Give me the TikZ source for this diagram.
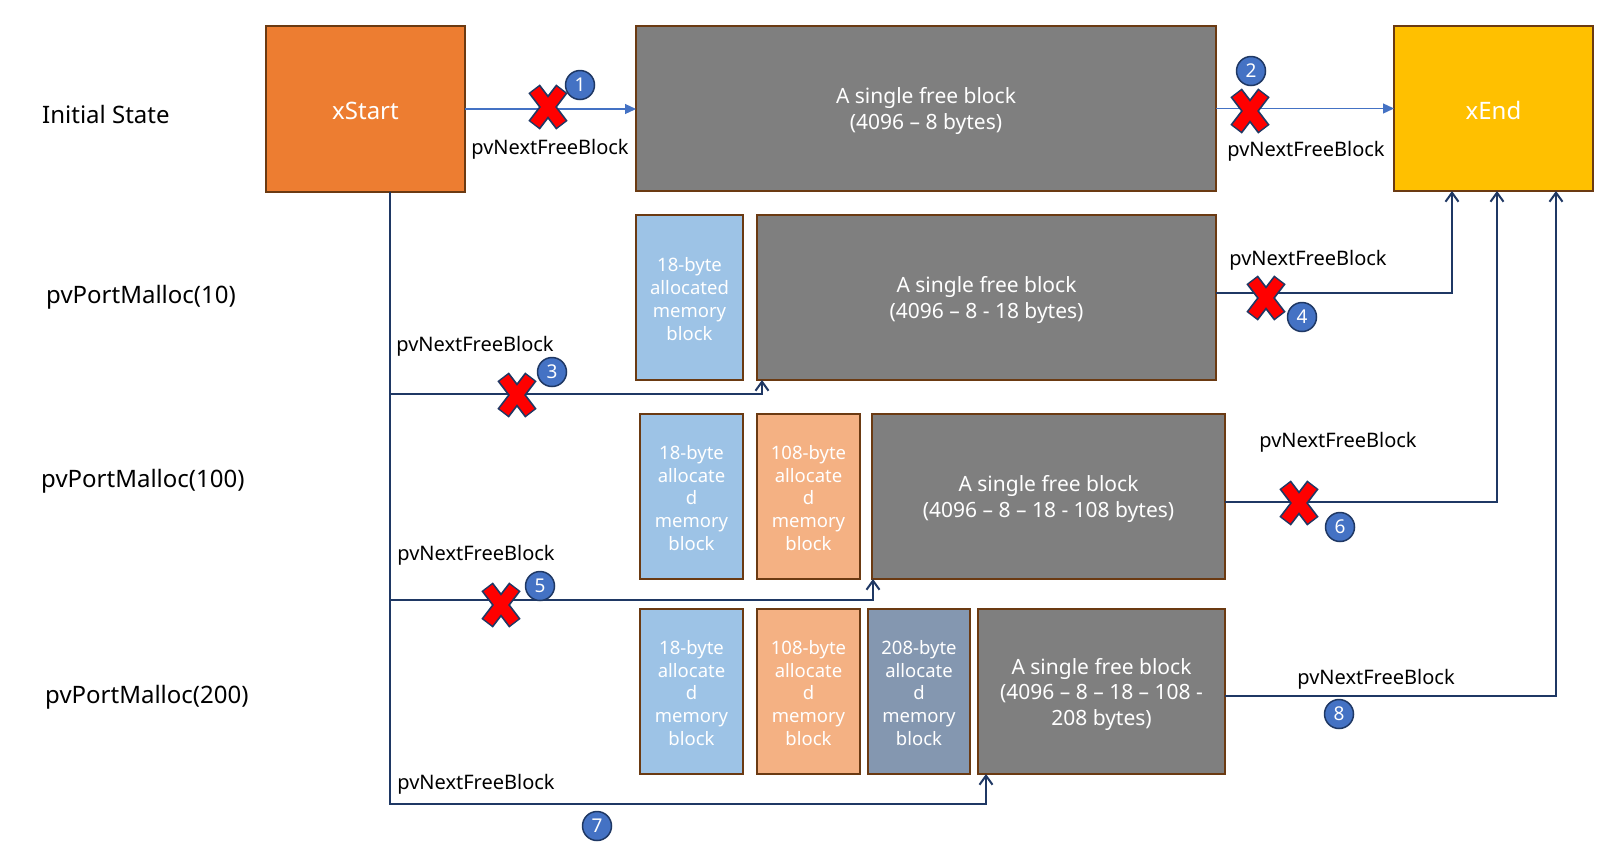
\documentclass[tikz,border=0pt]{standalone}
\usepackage{fontspec}
\setmainfont{Noto Sans}
\usetikzlibrary{arrows.meta,calc}
\definecolor{brownb}{HTML}{6B3A12}
\definecolor{navy}{HTML}{1F3864}
\definecolor{accblue}{HTML}{4472C4}
\definecolor{xorange}{HTML}{ED7D31}
\definecolor{xgold}{HTML}{FFC000}
\definecolor{fgray}{HTML}{7F7F7F}
\definecolor{lblue}{HTML}{9DC3E6}
\definecolor{lorange}{HTML}{F4B183}
\definecolor{slate}{HTML}{8497B0}
\definecolor{xred}{HTML}{FF0000}
\tikzset{
 blk/.style={draw=brownb, line width=2pt, inner sep=0pt, outer sep=0pt},
 intxt/.style={text=white, align=center, inner sep=0pt},
 freetxt/.style={intxt, font=\fontsize{21}{25.5}\selectfont},
 smalltxt/.style={intxt, font=\fontsize{18.5}{22.8}\selectfont},
 titletxt/.style={intxt, font=\fontsize{24}{28}\selectfont},
 lbl/.style={font=\fontsize{20}{24}\selectfont, inner sep=0pt},
 rowlbl/.style={font=\fontsize{24}{28}\selectfont, inner sep=0pt, anchor=west},
 badge/.style={circle, fill=accblue, draw=navy, line width=1.5pt, minimum size=29pt, inner sep=0pt, text=white, font=\fontsize{19}{20}\selectfont},
 navline/.style={draw=navy, line width=2.2pt},
 navarrow/.style={navline, -{Straight Barb[length=9pt,width=13pt,line width=2pt]}},
 bluearrow/.style={draw=accblue, line width=1.2pt, -{Triangle[length=11pt,width=10pt]}},
 xmark/.pic={
   \draw[navy, line width=14.5pt] (-13.9,-18.2) -- (13.9,18.2);
   \draw[navy, line width=14.5pt] (13.9,-18.2) -- (-13.9,18.2);
   \draw[xred, line width=11pt] (-13,-17) -- (13,17);
   \draw[xred, line width=11pt] (13,-17) -- (-13,17);
 },
}
\begin{document}
\begin{tikzpicture}[x=1pt,y=-1pt]
\fill[white] (0,0) rectangle (1597,855);
\useasboundingbox (0,0) rectangle (1597,855);

% row labels
\node[rowlbl] (r0) at (42,114) {Initial State};
\node[rowlbl] (r1) at (46,297) {pvPortMalloc(10)};
\node[rowlbl] (r2) at (41,481) {pvPortMalloc(100)};
\node[rowlbl] (r3) at (45,697) {pvPortMalloc(200)};

% initial state
\node[blk, fill=xorange, minimum width=199pt, minimum height=166pt] (xstart) at (365.5,109) {};
\node[blk, fill=fgray, minimum width=580pt, minimum height=165pt] (f0) at (926,108.5) {};
\node[blk, fill=xgold, minimum width=199pt, minimum height=165pt] (xend) at (1493.5,108.5) {};
\node[titletxt] (txs) at ($(xstart.center)+(0,2)$) {xStart};
\node[freetxt] (tf0) at ($(f0.center)+(0,2.5)$) {A single free block\\(4096 -- 8 bytes)};
\node[titletxt] (txe) at ($(xend.center)+(0,2)$) {xEnd};

% row 2
\node[blk, fill=lblue, minimum width=107pt, minimum height=165pt] (a1) at (689.5,297.5) {};
\node[blk, fill=fgray, minimum width=459pt, minimum height=165pt] (f1) at (986.5,297.5) {};
\node[smalltxt] (ta1) at ($(a1.center)+(0,1.5)$) {18-byte\\allocated\\memory\\block};
\node[freetxt] (tf1) at ($(f1.center)+(0,2.5)$) {A single free block\\(4096 -- 8 - 18 bytes)};

% row 3
\node[blk, fill=lblue, minimum width=103pt, minimum height=165pt] (a2) at (691.5,496.5) {};
\node[blk, fill=lorange, minimum width=103pt, minimum height=165pt] (o2) at (808.5,496.5) {};
\node[blk, fill=fgray, minimum width=353pt, minimum height=165pt] (f2) at (1048.5,496.5) {};
\node[smalltxt] (ta2) at ($(a2.center)+(0,1.5)$) {18-byte\\allocate\\d\\memory\\block};
\node[smalltxt] (to2) at ($(o2.center)+(0,1.5)$) {108-byte\\allocate\\d\\memory\\block};
\node[freetxt] (tf2) at ($(f2.center)+(0,2.5)$) {A single free block\\(4096 -- 8 -- 18 - 108 bytes)};

% row 4
\node[blk, fill=lblue, minimum width=103pt, minimum height=165pt] (a3) at (691.5,691.5) {};
\node[blk, fill=lorange, minimum width=103pt, minimum height=165pt] (o3) at (808.5,691.5) {};
\node[blk, fill=slate, minimum width=102pt, minimum height=165pt] (s3) at (919,691.5) {};
\node[blk, fill=fgray, minimum width=247pt, minimum height=165pt] (f3) at (1101.5,691.5) {};
\node[smalltxt] (ta3) at ($(a3.center)+(0,1.5)$) {18-byte\\allocate\\d\\memory\\block};
\node[smalltxt] (to3) at ($(o3.center)+(0,1.5)$) {108-byte\\allocate\\d\\memory\\block};
\node[smalltxt] (ts3) at ($(s3.center)+(0,1.5)$) {208-byte\\allocate\\d\\memory\\block};
\node[freetxt] (tf3) at ($(f3.center)+(0,2.5)$) {A single free block\\(4096 -- 8 -- 18 -- 108 -\\208 bytes)};

% top arrows
\draw[bluearrow] (xstart.east) -- (xstart.east -| f0.west);
\draw[bluearrow] (f0.east) -- (f0.east -| xend.west);

% trunk and left connectors
\coordinate (trunk) at ([xshift=24.5pt]xstart.south);
\coordinate (k3) at ($(f1.south west)+(5,14)$);
\coordinate (k5) at ($(f2.south west)+(1,21)$);
\coordinate (k7) at ($(f3.south west)+(8,30)$);
\draw[navarrow] (trunk) |- (k3) -- (k3 |- f1.south);
\draw[navarrow] (trunk) |- (k5) -- (k5 |- f2.south);
\draw[navarrow] (trunk) |- (k7) -- (k7 |- f3.south);

% right connectors
\coordinate (e4) at ($(xend.south west)+(58,0)$);
\coordinate (e6) at ($(xend.south west)+(103,0)$);
\coordinate (e8) at ($(xend.south west)+(162,0)$);
\draw[navarrow] ([yshift=4.5pt]f1.east) -| (e4);
\draw[navarrow] ([yshift=-5.5pt]f2.east) -| (e6);
\draw[navarrow] ([yshift=-4.5pt]f3.east) -| (e8);

% labels
\node[lbl] (l1) at (550,149.5) {pvNextFreeBlock};
\node[lbl] (l2) at (1306,151.5) {pvNextFreeBlock};
\node[lbl] (l3) at (475,346.5) {pvNextFreeBlock};
\node[lbl] (l4) at (1308,260.5) {pvNextFreeBlock};
\node[lbl] (l5) at (476,555.5) {pvNextFreeBlock};
\node[lbl] (l6) at (1338,442.5) {pvNextFreeBlock};
\node[lbl] (l7) at (476,784.5) {pvNextFreeBlock};
\node[lbl] (l8) at (1376,679.5) {pvNextFreeBlock};

% crosses
\pic (x1) at (548,107) {xmark};
\pic (x2) at (1250,111) {xmark};
\pic (x3) at (517,395) {xmark};
\pic (x4) at (1266,298) {xmark};
\pic (x5) at (501,605) {xmark};
\pic (x6) at (1299,503) {xmark};

% badges
\node[badge] (b1) at (580,85) {1};
\node[badge] (b2) at (1251,71) {2};
\node[badge] (b3) at (552,372) {3};
\node[badge] (b4) at (1302,317) {4};
\node[badge] (b5) at (540,586) {5};
\node[badge] (b6) at (1340,527) {6};
\node[badge] (b7) at (597,826) {7};
\node[badge] (b8) at (1339,714) {8};
\end{tikzpicture}
\end{document}
